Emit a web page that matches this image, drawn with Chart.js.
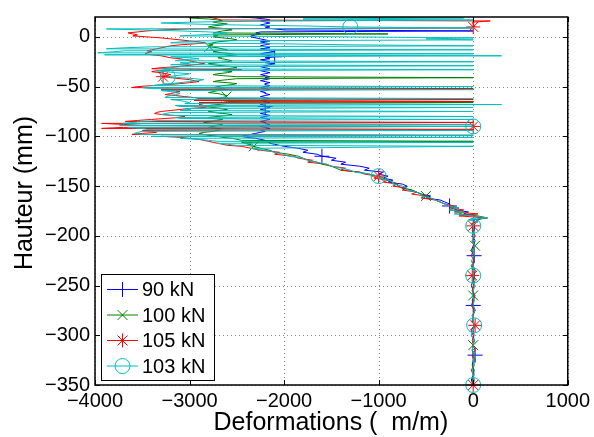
<!DOCTYPE html>
<html><head><meta charset="utf-8">
<script src="https://cdn.jsdelivr.net/npm/chart.js@4.4.0/dist/chart.umd.min.js"></script>
<style>html,body{margin:0;padding:0;background:#fff;}</style>
</head><body>
<canvas id="c" width="594" height="437"></canvas>
<script>
// Height grid (mm): 1 mm steps 20..-110, 2 mm steps -112..-190, 5 mm steps -195..-350
const heightSegments = [[20, -110, 1], [-112, -190, 2], [-195, -350, 5]];
const heights = [];
heightSegments.forEach(([a, b, s]) => { for (let h = a; h >= b; h -= s) heights.push(h); });

const xTicks = [-4000, -3000, -2000, -1000, 0, 1000];
const yTicks = [-350, -300, -250, -200, -150, -100, -50, 0];
const seriesLabels = ['90 kN', '100 kN', '105 kN', '103 kN'];

// 90 kN
const blueTop = [
 -2450,-2300,-2200,-2150,-2250,-2200,-2150,-2200,-2250,-2200,
 -2150,-2200,-2100,-2000,0,-2250,-2300,-2250,-2300,-2350,
 -2350,-2300,-2250,-2200,-2150,-2250,-2200,-2150,-2200,-2250,
 -2200,-2150,-2250,-2200,-2150,-2100,-2200,-2250,-2200,-2150,
 -2100,-2200,-2150,-2250,-2200,-2150,-2200,-2100,-2150,-2200,
 -2250,-2200,-2150,-2200,-2250,-2200,-2150,-2200,-2250,-2200,
 -2150,-2200,-2150,-2200,-2250,-2200,-2150,-2200,-2200,-2150,
 -2200,-2250,-2200,-2150,-2200,-2250,-2200,-2200,-2150,-2200,
 -2250,-2200,-2150,-2200,-2250,-2200,-2150,-2200,-2250,-2200,
 -2200,-2150,-2200,-2250,-2200,-2150,-2200,-2250,-2200,-2150,
 -2200,-2250,-2200,-2150,-2200,-2250,-2200,-2200,-2150,-2200,
 -2250,-2200,-2150,-2200,-2250,-2200,-2250,-2300,-2350,-2400,
 -2450,-2400,-2300,-2250,-2200,-2200,-2150,-2150,-2100,-2050,-2000];
const blueMid = [
 -1850,-1750,-1800,-1650,-1600,-1450,-1500,-1350,-1400,-1200,
 -1100,-1150,-950,-1000,-900,-950,-850,-900,-750,-700,
 -750,-650,-600,-550,-450,-500,-350,-300,-250,-250,
 -150,-200,-50,-100,0,100,50,20,0,10];
const blueLow = [10,-10,20,0,-20,10,0,-10,20,10,0,-20,0,10,-10,0,20,-10,0,10,-20,0,10,0,-10,20,0,-10,10,0,-20,0];

// 100 kN
const greenTop = [
 -2900,-3000,-2800,-2700,-2650,-2750,-2700,-2600,-2650,-2750,
 -2800,-2700,-2600,-2550,-2650,-2700,-2750,-900,-2750,-2700,
 -2750,-2650,-2550,-2500,-2600,-2700,-2750,-2800,-2750,-2800,
 -2790,-2700,-2650,-2600,-2700,-2750,-2650,-2550,-2500,-2600,
 -2650,-2700,-2650,-2600,-2550,-2600,-2700,-2800,-2750,-2650,
 -2550,-2500,-2600,-2700,-2650,-2550,-2600,-2700,-2750,-2650,
 -2500,0,-2500,-2600,-2700,-2750,-2600,-2500,-2550,-2650,
 -2700,-2750,-2650,-2600,-2700,-2750,-2800,-2700,-2650,-2600,
 -2610,-2650,-2700,-2750,-2650,-2600,0,-2600,-2700,-2800,
 -2850,-2750,-2650,-2600,-2700,-2800,-2750,-2650,-2550,-2600,
 -2700,-2800,-2750,-2650,-2700,-2800,-2850,-2750,-2650,-2700,
 -2750,-2800,-2700,-2650,-2700,-2750,-2850,-2900,-2850,-2800,
 -2700,-2650,-2550,-2500,-2450,0,-2450,-2400,-2350,-2400,-2320];
const greenMid = [
 -2250,-2150,-2100,-1950,-1850,-1800,-1750,-1650,-1600,-1500,
 -1450,-1400,-1200,-1100,-1000,-950,-900,-850,-800,-800,
 -750,-650,-600,-550,-500,-450,-400,-350,-300,-250,
 -200,-250,-100,-150,50,150,0,20,-10,0];
const greenLow = [-10,10,0,20,-10,0,10,-20,0,10,20,0,-10,0,10,-10,20,0,-10,10,0,-20,10,0,-10,0,20,-10,0,10,-10,0];

// 105 kN
const redTop = [
 -2800,-2750,-2700,-2660,180,20,-10,10,0,20,
 0,-20,-3000,-3300,-3450,-3550,-3650,-3600,-3550,-3600,
 -3450,-3300,-3200,-3100,-3000,-2900,-2840,-2950,-3100,-3200,
 -3250,-3300,-3350,-3400,-3450,-3400,-3450,-3470,-3400,-3300,
 -3250,-3200,-3100,-3050,-3000,-2950,-2900,-2840,-2950,-3050,
 -3150,-3300,-3400,-2450,-3350,-3400,-3300,-3250,-3200,-3250,
 -3280,-3200,-3100,-3000,-2950,-2900,-3000,-3100,-3250,-3400,
 -3550,-3610,0,-3300,-3200,-3100,-3150,-3200,-3260,-3150,
 -3050,-2950,-2900,0,-2950,0,-2900,-2850,-2900,-2850,
 -2800,-2850,-3000,-3100,-3200,-3300,-3350,-3370,-3300,-3150,
 -3050,-3100,-3250,-3400,-3550,-3680,0,-3930,-3700,-3500,
 0,-3700,-3930,0,-3500,-3400,-3350,-3500,-3610,0,
 -3300,-3100,-3000,-2900,-2850,-2800,-2750,-2700,-2650,-2600,-2450];
const redMid = [
 -2350,-2250,-2050,-2100,-1900,-1850,-1700,-1750,-1550,-1500,
 -1350,-1400,-1200,-1150,-1000,-1050,-900,-950,-800,-850,
 -700,-750,-600,-650,-500,-550,-400,-350,-300,-200,
 -250,-100,-200,50,-150,150,0,30,-20,0];
const redLow = [0,20,-10,10,0,-20,10,0,20,-10,0,10,-10,20,0,-20,10,0,-10,20,0,10,-10,0,20,-10,0,10,-20,0,10,0];

// 103 kN
const cyanTop = [
 -2500,-100,-1800,0,-2000,-2900,-3300,-3000,-2500,-1800,
 -1300,0,-3880,-3500,-3100,-2800,-2600,-2700,-2900,-3100,
 -1300,0,-500,0,-2900,-3100,-3200,-2000,-1260,0,
 -3400,-3700,-3880,0,-3700,-3800,-3970,0,-3900,300,
 -3200,-3000,-2900,-3100,-3150,0,-3100,-3000,-3200,0,
 -3100,-3200,-3300,0,-3350,-3250,-3150,-3000,-3050,-3150,
 -3230,-3100,-2950,-2850,-2900,-3000,-3100,-3200,-3300,-3400,
 0,-3500,-3400,0,-3300,-3200,-3150,-3100,-3150,-3200,
 -3250,-3260,0,-3200,-3100,-3050,-3000,-3050,300,-3150,
 -3100,0,-3050,-3000,-3100,0,-3200,-3250,-3300,-3200,
 0,-3150,-3100,0,-3300,-3500,-3600,-3700,0,-3740,
 0,-3650,-3500,-3450,0,-3500,-3550,-3580,-3500,0,
 -3400,0,-3100,-2900,-2800,-2700,0,-2700,-2600,-2500,0];
const cyanMid = [
 -2350,-2200,-2100,-2000,-1950,-1800,-1750,-1650,-1550,-1500,
 -1400,-1300,-1250,-1100,-1000,-1000,-900,-850,-850,-750,
 -700,-700,-600,-550,-550,-450,-400,-350,-300,-250,
 -150,-250,-100,-200,0,150,-50,50,0,0];
const cyanLow = [10,0,-10,20,0,10,-20,0,10,0,-10,20,0,-10,10,0,20,-10,0,10,0,-20,10,0,-10,20,0,10,-10,0,10,0];

// Heights carrying a marker for each series
const blueMarks = [-20, -70, -120, -170, -220, -270, -320];
const greenMarks = [-10, -60, -110, -160, -210, -260, -310];
const redMarks = [10, -40, -90, -140, -190, -240, -290, -350];
const cyanMarks = [10, -40, -90, -140, -190, -240, -290, -350];

const FONT = "'Liberation Sans', Arial, Helvetica, sans-serif";
const styles = [
  {color: '#0000ff', style: 'cross', radius: 7.5, order: 4},
  {color: '#008000', style: 'crossRot', radius: 7, order: 3},
  {color: '#ff0000', style: 'star', radius: 7, order: 2},
  {color: '#00bfbf', style: 'circle', radius: 7.5, order: 1}
];
const seriesValues = [
  blueTop.concat(blueMid, blueLow),
  greenTop.concat(greenMid, greenLow),
  redTop.concat(redMid, redLow),
  cyanTop.concat(cyanMid, cyanLow)
];
const seriesMarks = [blueMarks, greenMarks, redMarks, cyanMarks];

const datasets = seriesValues.map((vals, k) => ({
  label: seriesLabels[k],
  data: vals.map((v, i) => ({x: v, y: heights[i]})),
  showLine: true,
  borderColor: styles[k].color,
  borderWidth: 1,
  backgroundColor: styles[k].color,
  pointStyle: styles[k].style,
  pointBorderColor: styles[k].color,
  pointBackgroundColor: 'rgba(0,0,0,0)',
  pointBorderWidth: 1,
  pointRadius: ctx => seriesMarks[k].includes(heights[ctx.dataIndex]) ? styles[k].radius : 0,
  pointHoverRadius: 0,
  tension: 0,
  clip: false,
  order: styles[k].order
}));

const fmt = v => String(v).replace('-', '\u2212');

const frame = {
  id: 'frame',
  beforeDatasetsDraw(chart) {
    const {ctx, chartArea: a, scales: {x, y}} = chart;
    ctx.save();
    ctx.strokeStyle = '#8a8a8a';
    ctx.lineWidth = 1;
    ctx.setLineDash([1, 3]);
    xTicks.forEach(v => {
      const p = Math.round(x.getPixelForValue(v)) + 0.5;
      ctx.beginPath(); ctx.moveTo(p, a.top); ctx.lineTo(p, a.bottom); ctx.stroke();
    });
    yTicks.forEach(v => {
      const p = Math.round(y.getPixelForValue(v)) + 0.5;
      ctx.beginPath(); ctx.moveTo(a.left, p); ctx.lineTo(a.right, p); ctx.stroke();
    });
    ctx.restore();
  },
  afterDatasetsDraw(chart) {
    const {ctx, chartArea: a, scales: {x, y}} = chart;
    ctx.save();
    ctx.strokeStyle = '#000';
    ctx.lineWidth = 1.5;
    ctx.strokeRect(a.left, a.top, a.right - a.left, a.bottom - a.top);
    ctx.lineWidth = 1;
    const tl = 5;
    xTicks.forEach(v => {
      const p = Math.round(x.getPixelForValue(v)) + 0.5;
      ctx.beginPath();
      ctx.moveTo(p, a.bottom); ctx.lineTo(p, a.bottom - tl);
      ctx.moveTo(p, a.top); ctx.lineTo(p, a.top + tl);
      ctx.stroke();
    });
    yTicks.forEach(v => {
      const p = Math.round(y.getPixelForValue(v)) + 0.5;
      ctx.beginPath();
      ctx.moveTo(a.left, p); ctx.lineTo(a.left + tl, p);
      ctx.moveTo(a.right, p); ctx.lineTo(a.right - tl, p);
      ctx.stroke();
    });
    ctx.restore();
  },
  afterDraw(chart) {
    const {ctx, chartArea: a} = chart;
    ctx.save();
    // axis titles
    ctx.fillStyle = '#000';
    ctx.font = '25px ' + FONT;
    ctx.textAlign = 'center';
    ctx.textBaseline = 'middle';
    ctx.fillText('Deformations (  m/m)', (a.left + a.right) / 2 - 0.5, 423);
    ctx.save();
    ctx.translate(25, 193);
    ctx.rotate(-Math.PI / 2);
    ctx.fillText('Hauteur (mm)', 0, 0);
    ctx.restore();
    // legend
    const bx = 101.5, by = 274.5, bw = 113, bh = 106;
    ctx.fillStyle = '#fff';
    ctx.fillRect(bx, by, bw, bh);
    ctx.strokeStyle = '#000';
    ctx.lineWidth = 1;
    ctx.strokeRect(bx, by, bw, bh);
    const rows = [289.5, 315, 340.5, 366];
    ctx.font = '20px ' + FONT;
    ctx.textAlign = 'left';
    seriesLabels.forEach((lab, k) => {
      const yy = rows[k];
      ctx.strokeStyle = styles[k].color;
      ctx.lineWidth = 1;
      ctx.beginPath(); ctx.moveTo(107, yy); ctx.lineTo(138, yy); ctx.stroke();
      ctx.fillStyle = 'rgba(0,0,0,0)';
      Chart.helpers.drawPoint(ctx, {pointStyle: styles[k].style, radius: styles[k].radius, rotation: 0, borderWidth: 1}, 122.5, yy);
      ctx.fillStyle = '#000';
      ctx.fillText(lab, 142, yy + 1);
    });
    ctx.restore();
  }
};

new Chart(document.getElementById('c'), {
  type: 'scatter',
  data: {datasets},
  options: {
    responsive: false,
    animation: false,
    events: [],
    layout: {padding: {left: 0, right: 25, top: 11, bottom: 0}},
    plugins: {legend: {display: false}, tooltip: {enabled: false}},
    scales: {
      x: {
        type: 'linear', min: -4000, max: 1000,
        afterBuildTicks: s => { s.ticks = xTicks.map(v => ({value: v})); },
        ticks: {callback: fmt, font: {size: 20, family: FONT}, color: '#000', padding: 4, maxRotation: 0, autoSkip: false},
        grid: {display: false, drawTicks: false},
        border: {display: false},
        afterFit: s => { s.height = 52; }
      },
      y: {
        type: 'linear', min: -350, max: 20,
        afterBuildTicks: s => { s.ticks = yTicks.map(v => ({value: v})); },
        ticks: {callback: fmt, font: {size: 20, family: FONT}, color: '#000', padding: 5, autoSkip: false},
        grid: {display: false, drawTicks: false},
        border: {display: false},
        afterFit: s => { s.width = 95; }
      }
    }
  },
  plugins: [frame]
});
</script>
</body></html>
